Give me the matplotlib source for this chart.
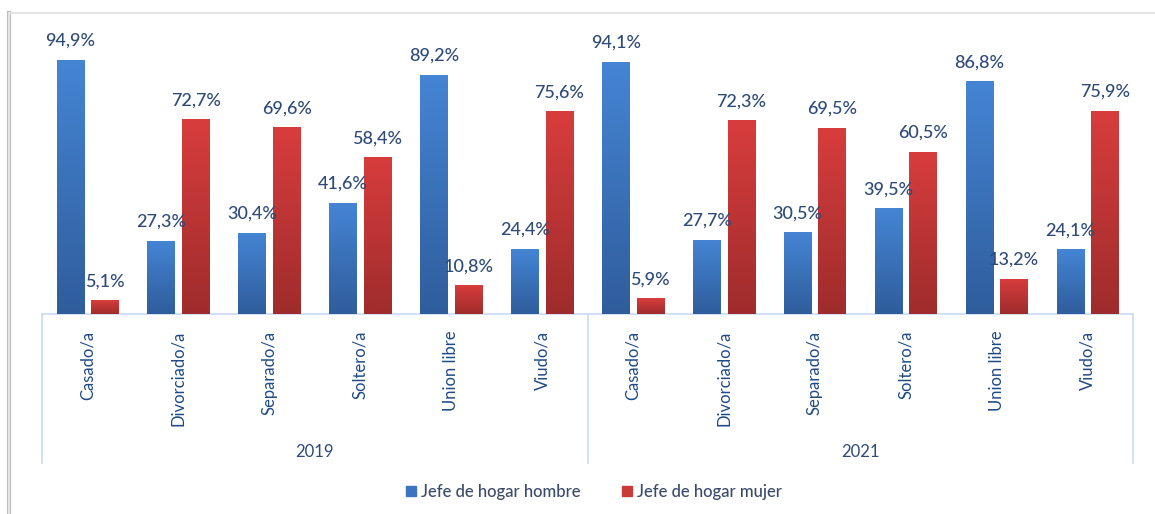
import matplotlib
matplotlib.use("Agg")
import matplotlib.pyplot as plt
import numpy as np
from matplotlib.colors import LinearSegmentedColormap
from matplotlib.patches import Patch, Rectangle
from matplotlib.lines import Line2D

plt.rcParams['font.family'] = ['Lato', 'DejaVu Sans']

# Data
years = ["2019", "2021"]
estados = ["Casado/a", "Divorciado/a", "Separado/a", "Soltero/a", "Union libre", "Viudo/a"]
hombre_2019 = [94.9, 27.3, 30.4, 41.6, 89.2, 24.4]
mujer_2019 = [5.1, 72.7, 69.6, 58.4, 10.8, 75.6]
hombre_2021 = [94.1, 27.7, 30.5, 39.5, 86.8, 24.1]
mujer_2021 = [5.9, 72.3, 69.5, 60.5, 13.2, 75.9]

hombre = hombre_2019 + hombre_2021
mujer = mujer_2019 + mujer_2021
labels = estados + estados

blue_cmap = LinearSegmentedColormap.from_list("b", ["#2f5d9c", "#4585d4"])
red_cmap = LinearSegmentedColormap.from_list("r", ["#9f2c2c", "#d83d3d"])
label_color = "#2e4a78"
axis_color = "#c8daf0"

fig = plt.figure(figsize=(11.55, 5.14), dpi=100)
ax = fig.add_axes([42 / 1155, 1 - 314 / 514, 1091 / 1155, 268 / 514])

x = np.arange(len(labels))
w = 0.30
off = 0.19

bars_h = ax.bar(x - off, hombre, w, color="#3b74bf", edgecolor="none", zorder=2)
bars_m = ax.bar(x + off, mujer, w, color="#c03535", edgecolor="none", zorder=2)

# gradient fill inside each bar
grad = np.linspace(0, 1, 256).reshape(-1, 1)
for bars, cmap in [(bars_h, blue_cmap), (bars_m, red_cmap)]:
    for b in bars:
        x0, y0 = b.get_x(), b.get_y()
        im = ax.imshow(grad, cmap=cmap, origin="lower", aspect="auto",
                       extent=[x0, x0 + b.get_width(), y0, y0 + b.get_height()],
                       zorder=3)
        im.set_clip_path(b)

# data labels
for bars, vals in [(bars_h, hombre), (bars_m, mujer)]:
    for b, v in zip(bars, vals):
        ax.annotate(f"{v:.1f}".replace(".", ",") + "%",
                    (b.get_x() + b.get_width() / 2, b.get_height()),
                    xytext=(0, 10), textcoords="offset points",
                    ha="center", va="baseline", fontsize=13, fontweight="medium",
                    color=label_color)

ax.set_xlim(-0.5, len(labels) - 0.5)
ax.set_ylim(0, 100)
ax.set_yticks([])
ax.set_xticks(x)
ax.set_xticklabels(labels, rotation=90, fontsize=12, color="#1f4a85")
ax.tick_params(axis="x", length=0, pad=12)

for s in ["top", "right", "left"]:
    ax.spines[s].set_visible(False)
ax.spines["bottom"].set_color(axis_color)
ax.spines["bottom"].set_linewidth(1.2)

# group separators and year labels
trans = ax.get_xaxis_transform()
for sx in [-0.5, 5.5, 11.5]:
    ax.add_line(Line2D([sx, sx], [0, -0.556], transform=trans, color=axis_color,
                       lw=1.2, clip_on=False))
for i, yr in enumerate(years):
    ax.text(i * 6 + 2.5, -0.515, yr, transform=trans, ha="center", va="center",
            fontsize=12, color="#2e4a78")

# legend
handles = [Patch(color="#3b74bf", label="Jefe de hogar hombre"),
           Patch(color="#c93a3a", label="Jefe de hogar mujer")]
fig.legend(handles=handles, loc="center", bbox_to_anchor=(594 / 1155, 1 - 492 / 514),
           ncol=2, frameon=False, fontsize=12, handlelength=0.6, handleheight=0.6,
           handletextpad=0.3, columnspacing=2.5, labelcolor="#3a4a6a",
           prop={"size": 12, "weight": "medium"})

# chart frame with a faint shadow
fig.patches.append(Rectangle((9 / 1155, -0.1), 1.2, 1 - 13 / 514 + 0.1,
                             transform=fig.transFigure, fill=False,
                             edgecolor="#e4e4e4", lw=1.5, zorder=0))
fig.lines.append(Line2D([9 / 1155, 9 / 1155], [0, 1 - 13 / 514], transform=fig.transFigure,
                        color="#bdbdbd", lw=3, zorder=0))

fig.savefig("out.png", dpi=100)
